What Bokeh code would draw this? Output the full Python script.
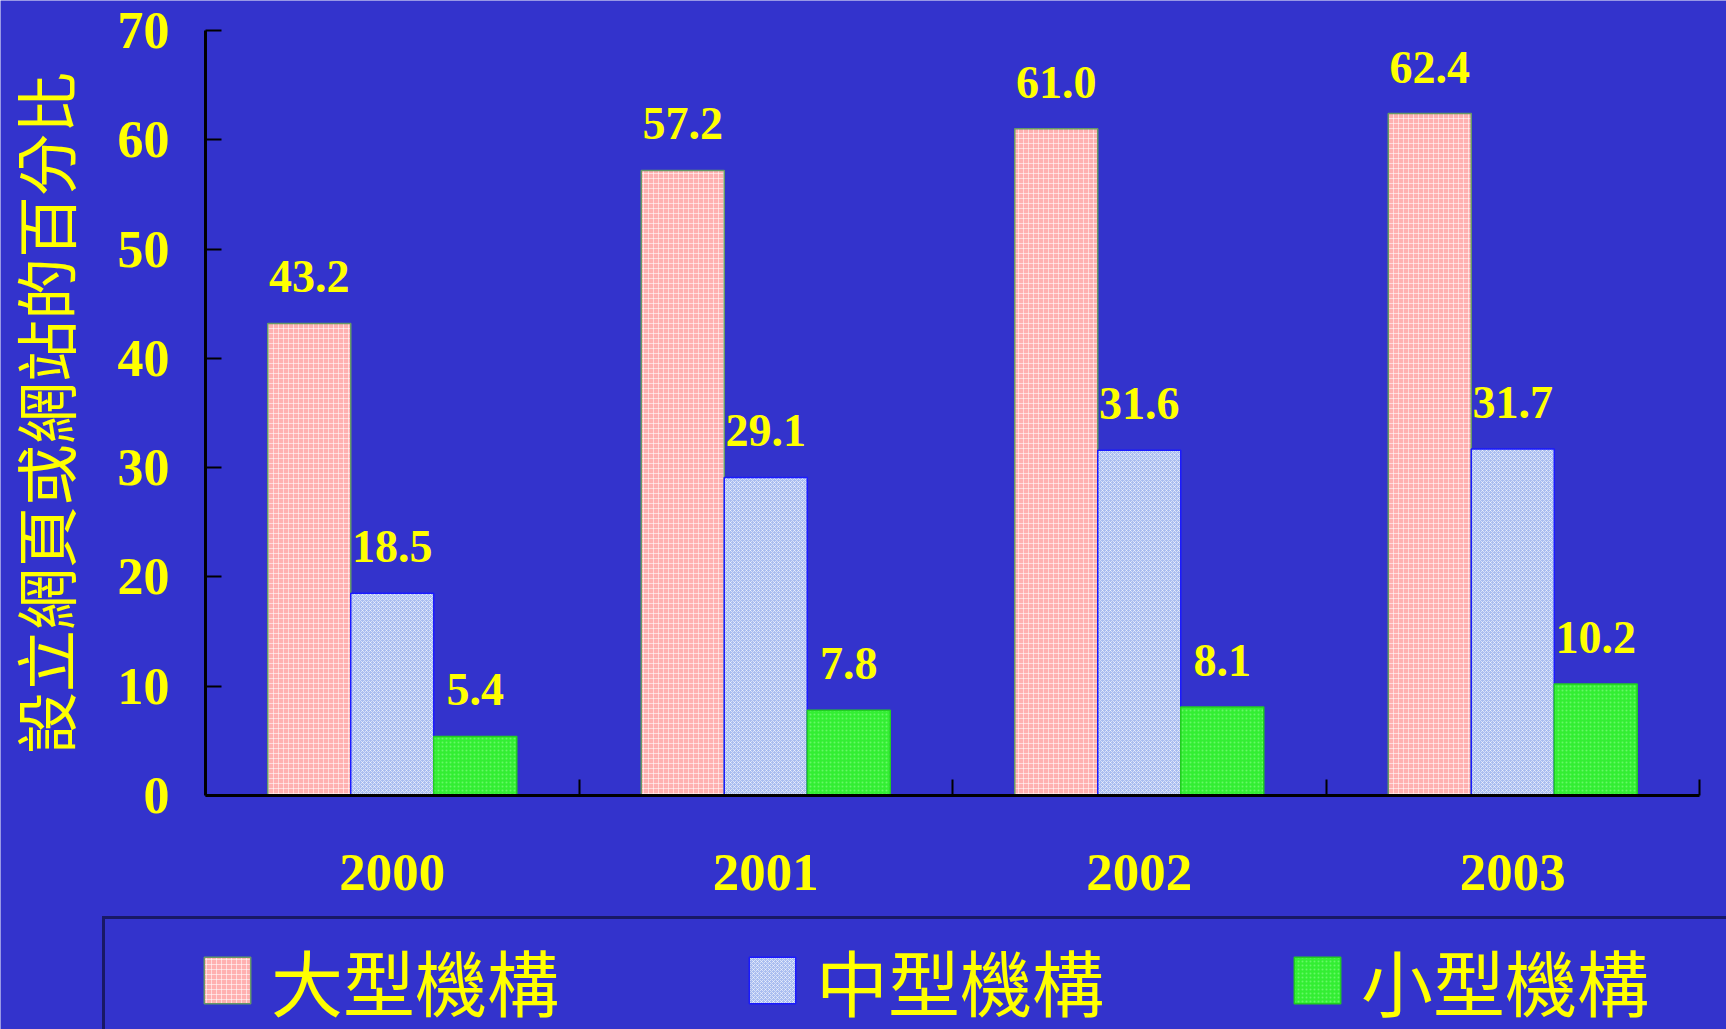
from bokeh.plotting import figure
from bokeh.models import (ColumnDataSource, FixedTicker, Range1d,
                          LabelSet, Legend, LegendItem)
from bokeh.transform import dodge
from bokeh.embed import file_html
from bokeh.resources import INLINE

# ---- data ----
years = ["2000", "2001", "2002", "2003"]
large = [43.2, 57.2, 61.0, 62.4]
medium = [18.5, 29.1, 31.6, 31.7]
small = [5.4, 7.8, 8.1, 10.2]
series_names = ["大型機構", "中型機構", "小型機構"]
y_title = "設立網頁或網站的百分比"
y_max = 70

BG = "#3333cc"
YEL = "#ffff00"
NUM_FONT = "Liberation Serif"
CJK_FONT = "Noto Sans CJK TC"

# canvas geometry (pixels) of the plotting area inside the full-bleed frame
CW, CH = 1726, 1029
AX_L, AX_R, AX_T, AX_B = 205, 1699, 30, 795

n = len(years)
centers = [i + 0.5 for i in range(n)]
src = ColumnDataSource(dict(
    x=centers, large=large, medium=medium, small=small,
    large_t=[f"{v:.1f}" for v in large],
    medium_t=[f"{v:.1f}" for v in medium],
    small_t=[f"{v:.1f}" for v in small],
))

W = 2.0 / 9.0

xs = (AX_R - AX_L) / n
ys = (AX_B - AX_T) / y_max
x_range = Range1d(-AX_L / xs, n + (CW - AX_R) / xs)
y_range = Range1d(-(CH - AX_B) / ys, y_max + AX_T / ys)

p = figure(width=CW, height=CH, output_backend="svg", toolbar_location=None,
           x_range=x_range, y_range=y_range,
           min_border_left=0, min_border_right=0, min_border_top=0, min_border_bottom=0)
p.background_fill_color = BG
p.border_fill_color = BG
p.outline_line_color = None
p.xgrid.visible = False
p.ygrid.visible = False

r1 = p.vbar(x=dodge("x", -W, range=None), top="large", width=W, source=src,
            fill_color="#ffb0b0", line_color="#669966", line_width=1.5,
            hatch_pattern="+", hatch_color="#ffffff", hatch_alpha=0.55, hatch_scale=5, hatch_weight=1)
r2 = p.vbar(x="x", top="medium", width=W, source=src,
            fill_color="#a9bdf0", line_color="#1a1aff", line_width=1.5,
            hatch_pattern="x", hatch_color="#ffffff", hatch_alpha=0.55, hatch_scale=4, hatch_weight=1)
r3 = p.vbar(x=dodge("x", W, range=None), top="small", width=W, source=src,
            fill_color="#33ee33", line_color="#22cc22", line_width=1.5,
            hatch_pattern=".", hatch_color="#88ff88", hatch_alpha=0.6, hatch_scale=4)
# fully transparent copy used only as a spacer entry, so the legend frame runs past the right edge
r_pad = p.vbar(x=dodge("x", W, range=None), top="small", width=W, source=src,
               fill_alpha=0, line_alpha=0)

for col, off in (("large", -W), ("medium", 0), ("small", W)):
    p.add_layout(LabelSet(x=dodge("x", off, range=None), y=col, text=col + "_t", source=src,
                          y_offset=31, text_align="center", text_baseline="alphabetic",
                          text_font=NUM_FONT, text_font_style="bold",
                          text_font_size="46px", text_color=YEL))

# x axis: boundary ticks (minor), year labels at centers
xa = p.xaxis[0]
xa.fixed_location = 0
xa.bounds = (0, n)
xa.ticker = FixedTicker(ticks=centers, minor_ticks=[i + 1 for i in range(n)])
xa.major_label_overrides = {c: y for c, y in zip(centers, years)}
xa.major_tick_line_color = None
xa.major_tick_in = 0
xa.major_tick_out = 0
xa.minor_tick_in = 16
xa.minor_tick_out = 0
xa.minor_tick_line_color = "black"
xa.minor_tick_line_width = 2
xa.axis_line_color = "black"
xa.axis_line_width = 3
xa.major_label_standoff = 59
xa.major_label_text_font = NUM_FONT
xa.major_label_text_font_style = "bold"
xa.major_label_text_font_size = "53px"
xa.major_label_text_color = YEL

ya = p.yaxis[0]
ya.fixed_location = 0
ya.bounds = (0, y_max)
ya.ticker = FixedTicker(ticks=list(range(0, y_max + 1, 10)))
ya.major_tick_in = 16
ya.major_tick_out = 0
ya.minor_tick_line_color = None
ya.major_tick_line_color = "black"
ya.major_tick_line_width = 2
ya.axis_line_color = "black"
ya.axis_line_width = 3
ya.major_label_standoff = 36
ya.major_label_text_font = NUM_FONT
ya.major_label_text_font_style = "bold"
ya.major_label_text_font_size = "52px"
ya.major_label_text_color = YEL
ya.axis_label = y_title
ya.axis_label_text_font = CJK_FONT
ya.axis_label_text_font_style = "normal"
ya.axis_label_text_font_size = "62px"
ya.axis_label_text_color = YEL
ya.axis_label_standoff = 26

legend = Legend(
    items=[LegendItem(label=series_names[0], renderers=[r1]),
           LegendItem(label=series_names[1], renderers=[r2]),
           LegendItem(label=series_names[2], renderers=[r3]),
           LegendItem(label=" ", renderers=[r_pad])],
    location=(102, -14), orientation="horizontal",
    title=" ", title_location="left", title_standoff=84,
    title_text_font_size="1px",
    padding=8, spacing=184, label_standoff=15,
    glyph_width=58, glyph_height=58, label_height=46,
    label_text_font=CJK_FONT, label_text_font_size="72px", label_text_color=YEL,
    background_fill_color=BG, background_fill_alpha=1.0,
    border_line_color="black", border_line_width=3,
)
p.add_layout(legend, "center")

open("out.html", "w").write(file_html(p, INLINE))
